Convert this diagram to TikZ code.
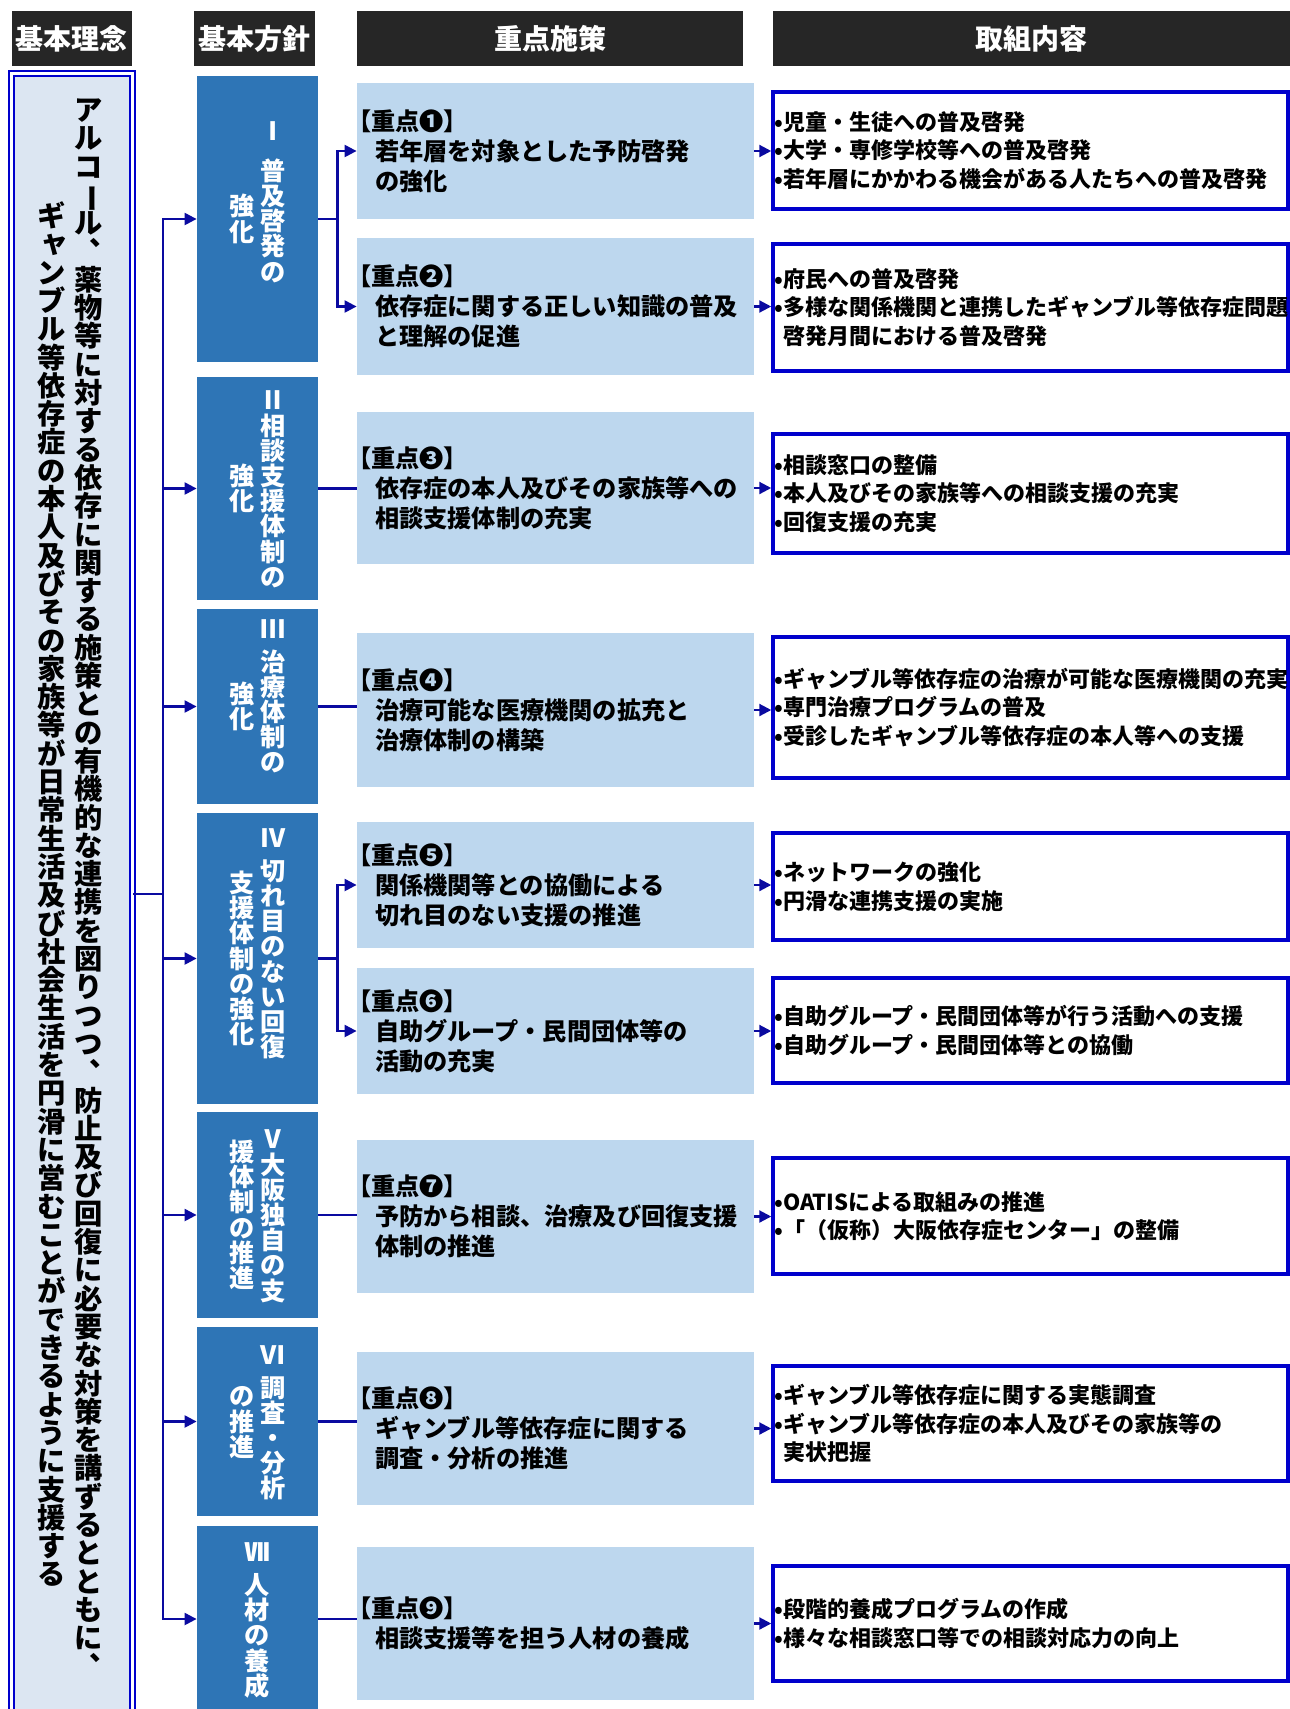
\documentclass[tikz,border=0pt]{standalone}
\usepackage{fontspec}
\usepackage{graphicx}
\setmainfont{Noto Sans CJK JP}
\usetikzlibrary{arrows.meta,calc}

\definecolor{hdrgray}{HTML}{262626}
\definecolor{rinenbg}{HTML}{DCE6F2}
\definecolor{frameblue}{HTML}{0000CC}
\definecolor{hoshinblue}{HTML}{2E75B6}
\definecolor{jutenblue}{HTML}{BDD7EE}
\definecolor{linkblue}{HTML}{0A0AA0}

% vertical (tategaki) column: one character per cell
\makeatletter
\newdimen\vc@pitch
\def\vgap{\vgap}
\def\vc@stop{\vc@stop}
\def\vc@cell#1{\hbox to\vc@pitch{\vrule height.88em depth.12em width0pt\hss#1\hss}}
\def\vc@glyph#1{%
  \ifx#1ー\smash{\rotatebox[origin=c]{-90}{ー}}%
  \else\ifx#1、\smash{\raisebox{.58em}{\kern.55em 、\kern-.55em}}%
  \else\ifx#1ャ\smash{\raisebox{.1em}{\kern.1em ャ\kern-.1em}}%
  \else#1\fi\fi\fi}
\def\vc@step#1{%
  \ifx#1\vc@stop
  \else
    \ifx#1\vgap\kern.3\vc@pitch\else\vc@cell{\vc@glyph#1}\fi
    \expandafter\vc@step
  \fi}
\newcommand\vcol[1]{\vbox{\vc@pitch=1em\baselineskip\vc@pitch
  \lineskiplimit-\maxdimen\lineskip0pt\relax\vc@step#1\vc@stop}}
\makeatother
\newcommand\hoshincols[3][0pt]{$\vcenter{\vcol{#2}}\kern3pt\vcenter{\vcol{#3}\kern#1}$}
\newcommand\ind{\hspace*{14pt}}
\newcommand\bul{\makebox[4pt][c]{•}}

\begin{document}
\begin{tikzpicture}
    [x=0.5pt,y=-0.5pt,
     head/.style={fill=hdrgray,text=white,font=\fontsize{14pt}{16pt}\selectfont\bfseries,
       minimum height=27.5pt,inner sep=0pt},
     rinentext/.style={font=\fontsize{14.15pt}{14.15pt}\selectfont\bfseries,inner sep=0pt},
     hoshin/.style={fill=hoshinblue,minimum width=60.5pt,inner sep=0pt},
     hoshintext/.style={text=white,font=\fontsize{12.6pt}{12.6pt}\selectfont\bfseries,inner sep=0pt},
     juten/.style={fill=jutenblue,minimum width=198.5pt,text width=208.5pt,inner xsep=-5pt,
       inner ysep=0pt,align=left,font=\fontsize{12.1pt}{15pt}\selectfont\bfseries},
     torikumi/.style={draw=frameblue,line width=1.75pt,fill=white,minimum width=257.5pt,
       text width=255.5pt,inner xsep=1pt,inner ysep=0pt,align=left,
       font=\fontsize{11pt}{14.25pt}\selectfont\bfseries},
     link/.style={draw=linkblue,line width=1.1pt},
     linkarr/.style={link,-{Triangle[length=6pt,width=6pt]}}]
    \useasboundingbox (0,0) rectangle (1290,1709);

    % headers
    \node [head,minimum width=60pt] (hA) at (72,38.5) {基本理念};
    \node [head,minimum width=60.5pt] (hB) at (254.5,38.5) {基本方針};
    \node [head,minimum width=193pt] (hC) at (550,38.5) {重点施策};
    \node [head,minimum width=258.5pt] (hD) at (1031.5,38.5) {取組内容};

    % basic idea
    \node [draw=frameblue,line width=0.9pt,double=white,double distance=1.35pt,fill=rinenbg,
      minimum width=60.5pt,minimum height=843.3pt,inner sep=0pt] (rinen) at (72,916.7) {};
    \node [rinentext] (rinenR) at (88.5,888)
      {\vcol{アルコール、薬物等に対する依存に関する施策との有機的な連携を図りつつ、防止及び回復に必要な対策を講ずるとともに、}};
    \node [rinentext] (rinenL) at (52,895)
      {\vcol{ギャンブル等依存症の本人及びその家族等が日常生活及び社会生活を円滑に営むことができるように支援する}};

    % basic policies
    \node [hoshin,minimum height=143pt] (p1) at (257.5,219) {};
    \node [hoshin,minimum height=111.5pt] (p2) at (257.5,488.5) {};
    \node [hoshin,minimum height=97.5pt] (p3) at (257.5,706.5) {};
    \node [hoshin,minimum height=145.5pt] (p4) at (257.5,958.5) {};
    \node [hoshin,minimum height=103pt] (p5) at (257.5,1215) {};
    \node [hoshin,minimum height=94.5pt] (p6) at (257.5,1421.5) {};
    \node [hoshin,minimum height=93pt] (p7) at (257.5,1619) {};
    \node [hoshintext] (p1t) at (p1.center) {\hoshincols[18pt]{強化}{Ⅰ\vgap\vgap 普及啓発の}};
    \node [hoshintext] (p2t) at (p2.center) {\hoshincols{強化}{Ⅱ相談支援体制の}};
    \node [hoshintext] (p3t) at (p3.center) {\hoshincols[11pt]{強化}{Ⅲ\vgap 治療体制の}};
    \node [hoshintext] (p4t) at (p4.center) {\hoshincols[16pt]{支援体制の強化}{Ⅳ\vgap 切れ目のない回復}};
    \node [hoshintext] (p5t) at (p5.center) {\hoshincols{援体制の推進}{Ⅴ大阪独自の支}};
    \node [hoshintext] (p6t) at (p6.center) {\hoshincols{の推進}{Ⅵ\vgap 調査・分析}};
    \node [hoshintext] (p7t) at (p7.center) {\vcol{Ⅶ\vgap 人材の養成}};

    % key measures
    \node [juten,minimum height=68pt] (s1) at (555.5,151)
      {【重点❶】\\\ind 若年層を対象とした予防啓発\\\ind の強化};
    \node [juten,minimum height=68.5pt] (s2) at (555.5,306.5)
      {【重点❷】\\\ind 依存症に関する正しい知識の普及\\\ind と理解の促進};
    \node [juten,minimum height=76pt] (s3) at (555.5,488)
      {【重点❸】\\\ind 依存症の本人及びその家族等への\\\ind 相談支援体制の充実};
    \node [juten,minimum height=77pt] (s4) at (555.5,710)
      {【重点❹】\\\ind 治療可能な医療機関の拡充と\\\ind 治療体制の構築};
    \node [juten,minimum height=63pt] (s5) at (555.5,885)
      {【重点❺】\\\ind 関係機関等との協働による\\\ind 切れ目のない支援の推進};
    \node [juten,minimum height=63pt] (s6) at (555.5,1031)
      {【重点❻】\\\ind 自助グループ・民間団体等の\\\ind 活動の充実};
    \node [juten,minimum height=76.5pt] (s7) at (555.5,1216.5)
      {【重点❼】\\\ind 予防から相談、治療及び回復支援\\\ind 体制の推進};
    \node [juten,minimum height=76.5pt] (s8) at (555.5,1428.5)
      {【重点❽】\\\ind ギャンブル等依存症に関する\\\ind 調査・分析の推進};
    \node [juten,minimum height=76.5pt] (s9) at (555.5,1623.5)
      {【重点❾】\\\ind 相談支援等を担う人材の養成};

    % actions
    \node [torikumi,minimum height=58.5pt] (t1) at (1030.5,150.5)
      {\bul 児童・生徒への普及啓発\\\bul 大学・専修学校等への普及啓発\\\bul 若年層にかかわる機会がある人たちへの普及啓発};
    \node [torikumi,minimum height=63.5pt] (t2) at (1030.5,307.5)
      {\bul 府民への普及啓発\\\bul 多様な関係機関と連携したギャンブル等依存症問題\\\hspace*{4pt}啓発月間における普及啓発};
    \node [torikumi,minimum height=59.5pt] (t3) at (1030.5,493.5)
      {\bul 相談窓口の整備\\\bul 本人及びその家族等への相談支援の充実\\\bul 回復支援の充実};
    \node [torikumi,minimum height=70.5pt] (t4) at (1030.5,707.5)
      {\bul ギャンブル等依存症の治療が可能な医療機関の充実\\\bul 専門治療プログラムの普及\\\bul 受診したギャンブル等依存症の本人等への支援};
    \node [torikumi,minimum height=53.5pt] (t5) at (1030.5,886.5)
      {\bul ネットワークの強化\\\bul 円滑な連携支援の実施};
    \node [torikumi,minimum height=52.5pt] (t6) at (1030.5,1030.5)
      {\bul 自助グループ・民間団体等が行う活動への支援\\\bul 自助グループ・民間団体等との協働};
    \node [torikumi,minimum height=58pt] (t7) at (1030.5,1216)
      {\bul OATISによる取組みの推進\\\bul 「（仮称）大阪依存症センター」の整備};
    \node [torikumi,minimum height=57.5pt] (t8) at (1030.5,1423.5)
      {\bul ギャンブル等依存症に関する実態調査\\\bul ギャンブル等依存症の本人及びその家族等の\\\hspace*{4pt}実状把握};
    \node [torikumi,minimum height=57.5pt] (t9) at (1030.5,1623.5)
      {\bul 段階的養成プログラムの作成\\\bul 様々な相談窓口等での相談対応力の向上};

    % idea -> policies
    \coordinate (trunk) at (163,894);
    \draw [link] (rinen.east |- trunk) -- (trunk);
    \draw [link,{Triangle[length=6pt,width=6pt]}-{Triangle[length=6pt,width=6pt]}]
      (p1.west) -| (trunk) |- (p7.west);
    \foreach \i in {2,...,6}
      \draw [linkarr] (trunk |- p\i.west) -- (p\i.west);

    % policies -> measures
    \coordinate (f1) at ($(p1.east)!.5!(p1.east -| s1.west)$);
    \draw [link] (p1.east) -- (f1);
    \draw [linkarr] (f1) |- (s1.west);
    \draw [linkarr] (f1) |- (s2.west);
    \coordinate (f4) at ($(p4.east)!.5!(p4.east -| s5.west)$);
    \draw [link] (p4.east) -- (f4);
    \draw [linkarr] (f4) |- (s5.west);
    \draw [linkarr] (f4) |- (s6.west);
    \draw [link] (p2.east) -- (p2.east -| s3.west);
    \draw [link] (p3.east) -- (p3.east -| s4.west);
    \draw [link] (p5.east) -- (p5.east -| s7.west);
    \draw [link] (p6.east) -- (p6.east -| s8.west);
    \draw [link] (p7.east) -- (p7.east -| s9.west);

    % measures -> actions
    \foreach \i in {1,...,9}
      \draw [linkarr] (s\i.east) -- (s\i.east -| t\i.west);
  \end{tikzpicture}
\end{document}
